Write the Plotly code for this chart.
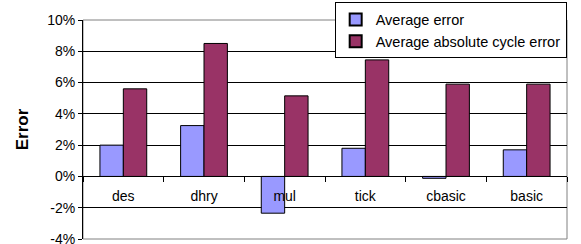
import plotly.graph_objects as go

categories = ["des", "dhry", "mul", "tick", "cbasic", "basic"]
avg_error = [2.0, 3.25, -2.35, 1.8, -0.12, 1.7]
avg_abs_cycle_error = [5.6, 8.5, 5.15, 7.45, 5.9, 5.9]
y_ticks = [-4, -2, 0, 2, 4, 6, 8, 10]
y_tick_labels = [f"{v}%" for v in y_ticks]

FONT = "Liberation Sans, Arial, sans-serif"

fig = go.Figure()
fig.add_bar(x=categories, y=avg_error, name="Average error",
            marker=dict(color="#9999FF", line=dict(color="black", width=1)))
fig.add_bar(x=categories, y=avg_abs_cycle_error, name="Average absolute cycle error",
            marker=dict(color="#993366", line=dict(color="black", width=1)))

ymin, ymax = -4, 10
zero_pos = (0 - ymin) / (ymax - ymin)

fig.update_layout(
    width=581, height=244,
    margin=dict(l=83, r=14, t=20, b=5, autoexpand=False),
    paper_bgcolor="white", plot_bgcolor="white",
    font=dict(family=FONT, size=14, color="black"),
    bargap=0.42, bargroupgap=0,
    showlegend=True,
    legend=dict(x=0.52, y=1.08, xanchor="left", yanchor="top",
                bgcolor="white", bordercolor="black", borderwidth=1,
                font=dict(size=14.5), tracegroupgap=0,
                itemsizing="constant"),
    xaxis=dict(anchor="free", position=zero_pos, showline=True, linecolor="black",
               linewidth=1, ticks="outside", tickson="boundaries", ticklen=5,
               tickcolor="black", showgrid=False, ticklabelstandoff=7,
               tickfont=dict(size=14), automargin=False),
    yaxis=dict(range=[ymin, ymax], tickvals=y_ticks, ticktext=y_tick_labels,
               showline=True, linecolor="black", linewidth=1, ticks="outside",
               ticklen=4, tickcolor="black", showgrid=True, gridcolor="black",
               gridwidth=1, zeroline=False, tickfont=dict(size=14),
               ticklabeloverflow="allow", automargin=False,
               title=dict(text="<b>Error</b>", font=dict(size=17), standoff=14)),
    shapes=[dict(type="rect", xref="paper", yref="paper", x0=0, x1=1, y0=0, y1=1,
                 line=dict(color="#808080", width=1), layer="below")],
)

fig.write_html("out.html", config={"displayModeBar": False},
               post_script="document.body.style.margin='0';")
